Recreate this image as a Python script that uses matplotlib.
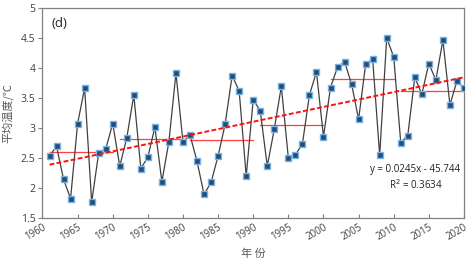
import numpy as np
import matplotlib
matplotlib.use("Agg")
import matplotlib.pyplot as plt

plt.rcParams['font.family'] = ['Open Sans', 'Noto Sans CJK SC', 'DejaVu Sans']

# ---------- data ----------------------------------------------------------
years = np.arange(1961, 2021)
temps = np.array([
    2.53, 2.69, 2.14, 1.82, 3.07, 3.66, 1.76, 2.58, 2.645, 3.07,   # 1961-1970
    2.36, 2.83, 3.545, 2.32, 2.51, 3.01, 2.10, 2.77, 3.91, 2.76,   # 1971-1980
    2.88, 2.44, 1.89, 2.09, 2.53, 3.06, 3.87, 3.61, 2.195, 3.47,   # 1981-1990
    3.28, 2.36, 2.98, 3.69, 2.495, 2.55, 2.73, 3.545, 3.93, 2.85,  # 1991-2000
    3.67, 4.01, 4.10, 3.73, 3.14, 4.055, 4.145, 2.54, 4.495, 4.18, # 2001-2010
    2.75, 2.87, 3.84, 3.56, 4.07, 3.795, 4.46, 3.38, 3.78, 3.66,   # 2011-2020
])
decades = [(1961, 1970), (1971, 1980), (1981, 1990),
           (1991, 2000), (2001, 2010), (2011, 2020)]
fit_text = "y = 0.0245x - 45.744\nR$^2$ = 0.3634"

# ---------- plot ----------------------------------------------------------
fig = plt.figure(figsize=(4.72, 2.58), dpi=100)
ax = fig.add_axes([0.090, 0.156, 0.893, 0.814])

ax.plot(years, temps, "-", color="#404040", lw=0.9, zorder=3,
        marker="s", ms=4.5, mfc="#1F4E79", mec="#7DB3E3", mew=1.0)

for y0, y1 in decades:
    sel = (years >= y0) & (years <= y1)
    ax.plot([y0, y1], [temps[sel].mean()] * 2, "-", color="#FF4040",
            lw=0.9, zorder=2)

k, b = np.polyfit(years, temps, 1)
ax.plot([1961, 2020], [k * 1961 + b, k * 2020 + b], "--", color="#FF1010",
        lw=1.4, dashes=(2.5, 1.2), zorder=4)

ax.set_xlim(1960, 2020)
ax.set_ylim(1.5, 5)
ax.set_xticks(np.arange(1960, 2021, 5))
ax.set_yticks(np.arange(1.5, 5.01, 0.5))
ax.set_yticklabels(["1.5", "2", "2.5", "3", "3.5", "4", "4.5", "5"])
ax.tick_params(axis="x", direction="in", length=3, labelsize=7,
               labelcolor="#404040", color="#808080", pad=3)
ax.tick_params(axis="y", direction="out", length=3, labelsize=7.5,
               labelcolor="#404040", color="#808080", pad=2)
for lab in ax.get_xticklabels():
    lab.set_rotation(30)
    lab.set_ha("right")
    lab.set_va("top")
    lab.set_rotation_mode("anchor")
for s in ax.spines.values():
    s.set_color("#808080")
    s.set_linewidth(0.9)

ax.set_ylabel("平均温度/℃", fontsize=8, color="#595959",
              family=["Noto Sans CJK SC", "DejaVu Sans"], labelpad=5)
ax.set_xlabel("年 份", fontsize=8, color="#595959",
              family=["Noto Sans CJK SC", "DejaVu Sans"], labelpad=4)

ax.text(0.022, 0.955, "(d)", transform=ax.transAxes, fontsize=9.5,
        va="top", ha="left", color="#222222")
ax.text(0.885, 0.19, fit_text, transform=ax.transAxes, fontsize=7,
        ha="center", va="center", color="#222222", linespacing=1.3)

fig.savefig("out.png", dpi=100)
